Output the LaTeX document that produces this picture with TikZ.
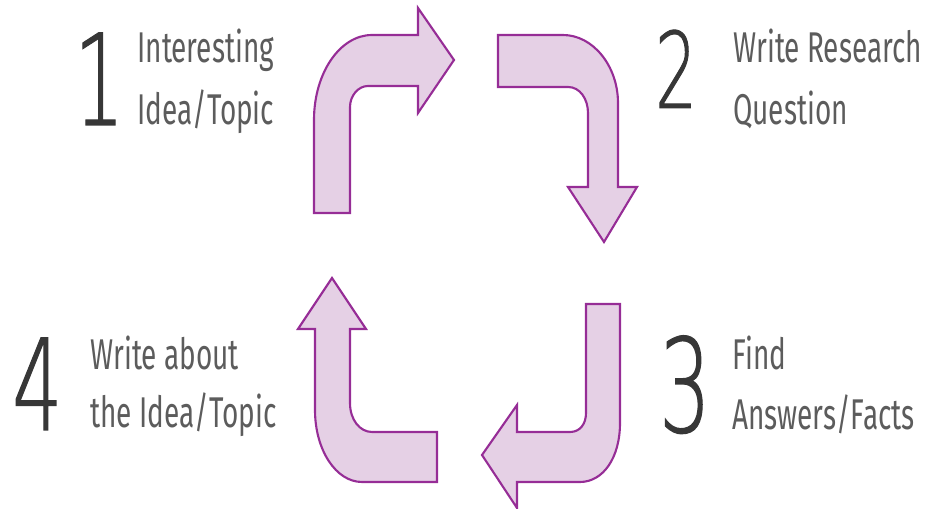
\documentclass[tikz,border=0pt]{standalone}
\usepackage{fontspec}
\setmainfont{Fira Sans}[FakeStretch=0.65]
\newfontfamily\numfont{DejaVu Sans ExtraLight}[FakeStretch=0.62, FakeBold=0.9]
\definecolor{arrfill}{RGB}{229,208,229}
\definecolor{arrdraw}{RGB}{150,45,150}
\definecolor{txtgray}{RGB}{92,92,92}
\definecolor{numgray}{RGB}{55,55,55}
\tikzset{
  bentarrow/.style={fill=arrfill, draw=arrdraw, line width=1.2pt},
  lbl/.style={inner sep=0pt, anchor=base west, text=txtgray, font=\fontsize{24.5}{30}\selectfont},
  bignum/.style={inner sep=0pt, anchor=base west, text=numgray},
}
\begin{document}
\begin{tikzpicture}[x=0.02cm, y=-0.02cm]
\useasboundingbox (0,0) rectangle (931,509);
% arrow 1 (top-left)
\draw[bentarrow] (314,213) -- (314,120) .. controls (314,73) and (340,35) .. (372,35)
  -- (418,35) -- (418,8) -- (454,60) -- (418,113) -- (418,86) -- (368,86)
  .. controls (358,86) and (350,96) .. (350,107) -- (350,213) -- cycle;
% arrow 2 (top-right)
\draw[bentarrow] (498,35) -- (563,35) .. controls (593,35) and (618,66) .. (618,103)
  -- (618,187) -- (637,187) -- (604,242) -- (568,187) -- (588,187) -- (588,113)
  .. controls (588,99) and (580,87) .. (568,87) -- (498,87) -- cycle;
% arrow 3 (bottom-right)
\draw[bentarrow] (586,304) -- (620,304) -- (620,423) .. controls (620,458) and (603,482) .. (580,482)
  -- (517,482) -- (517,508) -- (482,455) -- (517,405) -- (517,432) -- (570,432)
  .. controls (580,432) and (586,424) .. (586,413) -- cycle;
% arrow 4 (bottom-left)
\draw[bentarrow] (332,278) -- (366,329) -- (350,329) -- (350,403)
  .. controls (350,420) and (360,432) .. (372,432) -- (437,432) -- (437,482) -- (362,482)
  .. controls (336,482) and (315,450) .. (315,410) -- (315,329) -- (298,329) -- cycle;
% numbers
\node[bignum, font=\numfont\fontsize{72}{72}\selectfont] (n1) at (74,125) {1};
\node[bignum, font=\numfont\fontsize{60}{60}\selectfont] (n2) at (655,108) {2};
\node[bignum, font=\numfont\fontsize{74}{74}\selectfont] (n3) at (659,432) {3};
\node[bignum, font=\numfont\fontsize{72}{72}\selectfont] (n4) at (12,430) {4};
% labels
\node[lbl] (t1a) at (137,63) {Interesting};
\node[lbl] (t1b) at (137,125) {Idea/Topic};
\node[lbl] (t2a) at (733,63) {Write Research};
\node[lbl] (t2b) at (733,125) {Question};
\node[lbl] (t3a) at (732,370) {Find};
\node[lbl] (t3b) at (732,430) {Answers/Facts};
\node[lbl] (t4a) at (90,370) {Write about};
\node[lbl] (t4b) at (90,428) {the Idea/Topic};
\end{tikzpicture}
\end{document}
